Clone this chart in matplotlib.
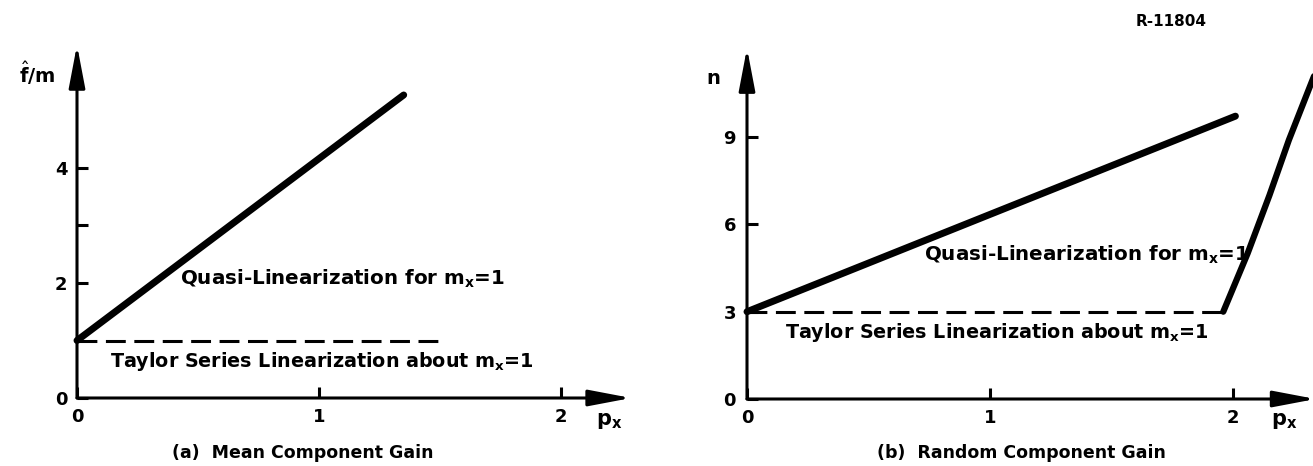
import matplotlib
matplotlib.use("Agg")
import matplotlib.pyplot as plt

# ---------------- data ----------------
# (a) Mean component gain
a_quasi_x = [0.0, 1.35]
a_quasi_y = [1.0, 5.27]
a_taylor_x = [0.0, 1.51]
a_taylor_y = [1.0, 1.0]
a_xticks = [0, 1, 2]
a_xticklabels = ["0", "1", "2"]
a_yticks = [0, 2, 3, 4]
a_yticklabels = ["0", "2", "", "4"]

# (b) Random component gain
b_quasi_x = [0.0, 2.01]
b_quasi_y = [3.0, 9.72]
b_taylor_x = [0.0, 1.96]
b_taylor_y = [3.0, 3.0]
b_steep_x = [1.96, 2.06, 2.15, 2.23, 2.31, 2.40]
b_steep_y = [3.0, 5.0, 7.0, 8.9, 10.6, 12.5]
b_xticks = [0, 1, 2]
b_xticklabels = ["0", "1", "2"]
b_yticks = [0, 3, 6, 9]
b_yticklabels = ["0", "3", "6", "9"]

W, H = 1313, 466
FONT = "DejaVu Sans"
plt.rcParams["font.family"] = [FONT]
plt.rcParams["mathtext.fontset"] = "dejavusans"

fig = plt.figure(figsize=(W / 100, H / 100), dpi=100)
fig.patch.set_facecolor("white")


def make_axes(px0, px1, ox, oy, sx, sy):
    """Axes covering pixel columns px0..px1 (full height), origin at pixel (ox, oy)."""
    ax = fig.add_axes([px0 / W, 0, (px1 - px0) / W, 1])
    ax.set_xlim((px0 - ox) / sx, (px1 - ox) / sx)
    ax.set_ylim((oy - H) / sy, oy / sy)
    for s in ["top", "right", "left", "bottom"]:
        ax.spines[s].set_visible(False)
    ax.spines["left"].set_position(("data", 0))
    ax.spines["bottom"].set_position(("data", 0))
    ax.patch.set_alpha(0)
    return ax


def draw_axes_arrows(ax, xtip, ytip):
    style = "-|>,head_length=1.0,head_width=0.19"
    for xy in [(xtip, 0), (0, ytip)]:
        ax.annotate("", xy=xy, xytext=(0, 0),
                    arrowprops=dict(arrowstyle=style, lw=2.2, color="black",
                                    mutation_scale=26, shrinkA=0, shrinkB=0),
                    annotation_clip=False)


def style_ticks(ax, xt, xtl, yt, ytl, ypad):
    ax.set_xticks(xt)
    ax.set_xticklabels(xtl)
    ax.set_yticks(yt)
    ax.set_yticklabels(ytl)
    ax.tick_params(axis="both", direction="in", length=8, width=2.2,
                   labelsize=13, color="black")
    ax.tick_params(axis="x", pad=7)
    ax.tick_params(axis="y", pad=ypad)
    for lab in ax.get_xticklabels() + ax.get_yticklabels():
        lab.set_fontweight("bold")


dash = (6.5, 2.8)
QS = 14.3   # quasi label size
TS = 13.8   # taylor label size

# ---------------- panel (a) ----------------
axa = make_axes(0, 640, 77, 398, 242, 57.5)
draw_axes_arrows(axa, 2.29, 6.14)
style_ticks(axa, a_xticks, a_xticklabels, a_yticks, a_yticklabels, 7)
axa.plot(a_quasi_x, a_quasi_y, color="black", lw=5, solid_capstyle="round")
axa.plot(a_taylor_x, a_taylor_y, color="black", lw=2.2, dashes=dash)
axa.text(0.426, 2.07, r"Quasi-Linearization for m$_\mathbf{x}$=1",
         fontsize=QS, fontweight="bold", va="center", ha="left")
axa.text(0.136, 0.63, r"Taylor Series Linearization about m$_\mathbf{x}$=1",
         fontsize=TS, fontweight="bold", va="center", ha="left")
axa.text(-0.165, 5.65, r"$\hat{\mathbf{f}}$/m", fontsize=14,
         fontweight="bold", va="center", ha="center")
axa.text(2.20, -0.40, r"p$_\mathbf{x}$", fontsize=15, fontweight="bold",
         va="center", ha="center")

# ---------------- panel (b) ----------------
axb = make_axes(640, 1313, 747, 399, 243, 29.1)
draw_axes_arrows(axb, 2.34, 12.06)
style_ticks(axb, b_xticks, b_xticklabels, b_yticks, b_yticklabels, 8)
axb.plot(b_quasi_x, b_quasi_y, color="black", lw=5, solid_capstyle="round")
axb.plot(b_taylor_x, b_taylor_y, color="black", lw=2.2, dashes=dash)
axb.plot(b_steep_x, b_steep_y, color="black", lw=4.5, solid_capstyle="round")
axb.text(0.73, 4.95, r"Quasi-Linearization for m$_\mathbf{x}$=1",
         fontsize=QS, fontweight="bold", va="center", ha="left")
axb.text(0.156, 2.27, r"Taylor Series Linearization about m$_\mathbf{x}$=1",
         fontsize=TS, fontweight="bold", va="center", ha="left")
axb.text(-0.14, 11.03, "n", fontsize=14, fontweight="bold",
         va="center", ha="center")
axb.text(2.21, -0.75, r"p$_\mathbf{x}$", fontsize=15, fontweight="bold",
         va="center", ha="center")

# ---------------- captions ----------------
fig.text(303 / W, 1 - 453 / H, "(a)  Mean Component Gain", fontsize=12.5,
         fontweight="bold", ha="center", va="center")
fig.text(1021 / W, 1 - 453 / H, "(b)  Random Component Gain", fontsize=12.5,
         fontweight="bold", ha="center", va="center")
fig.text(1171 / W, 1 - 22 / H, "R-11804", fontsize=11, fontweight="bold",
         ha="center", va="center")

fig.savefig("out.png", dpi=100, facecolor="white")
